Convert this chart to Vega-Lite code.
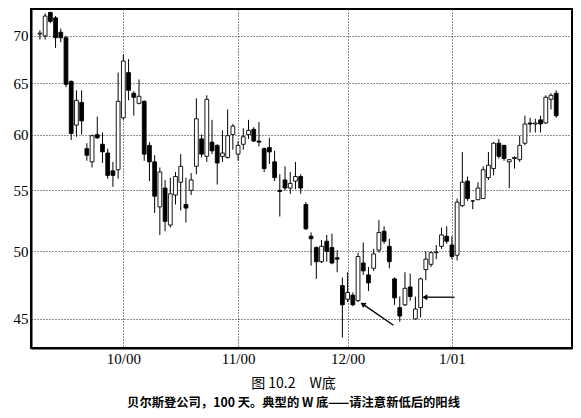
{
  "$schema": "https://vega.github.io/schema/vega-lite/v6.json",
  "width": 541,
  "height": 339,
  "autosize": {"type": "none"},
  "padding": {"left": 31, "top": 9, "right": 9, "bottom": 70},
  "background": "white",
  "title": {
    "text": "图 10.2\u3000W底",
    "subtitle": "贝尔斯登公司，100 天。典型的 W 底——请注意新低后的阳线",
    "orient": "bottom",
    "anchor": "middle",
    "dx": -8,
    "offset": 11,
    "font": "Noto Sans CJK SC",
    "fontSize": 14,
    "fontWeight": "normal",
    "color": "black",
    "subtitleFont": "Noto Sans CJK SC",
    "subtitleFontSize": 12.3,
    "subtitleFontWeight": "bold",
    "subtitleColor": "black",
    "subtitlePadding": 6
  },
  "config": {
    "view": {"stroke": "black", "strokeWidth": 2},
    "axis": {
      "labelFont": "Liberation Serif",
      "labelFontSize": 15,
      "labelColor": "black",
      "gridColor": "#222",
      "gridDash": [1, 2],
      "gridWidth": 1,
      "domainColor": "black",
      "domainWidth": 2,
      "ticks": false,
      "labelPadding": 3,
      "title": null
    }
  },
  "datasets": {
    "candles": [
      {"i": 0, "o": 70.2, "h": 70.6, "l": 69.6, "c": 70.3},
      {"i": 1, "o": 70.0, "h": 72.5, "l": 69.6, "c": 72.2},
      {"i": 2, "o": 72.6, "h": 72.7, "l": 71.4, "c": 71.6},
      {"i": 3, "o": 72.0, "h": 72.2, "l": 68.7, "c": 69.8},
      {"i": 4, "o": 70.4, "h": 70.8, "l": 69.3, "c": 69.8},
      {"i": 5, "o": 69.8, "h": 70.0, "l": 64.6, "c": 64.9},
      {"i": 6, "o": 65.2, "h": 65.3, "l": 59.5, "c": 60.1},
      {"i": 7, "o": 60.9, "h": 64.3, "l": 59.8, "c": 63.3},
      {"i": 8, "o": 63.1, "h": 64.3, "l": 60.0, "c": 61.3},
      {"i": 9, "o": 58.7, "h": 59.2, "l": 57.6, "c": 58.1},
      {"i": 10, "o": 57.5, "h": 60.0, "l": 57.0, "c": 59.9},
      {"i": 11, "o": 60.0, "h": 61.7, "l": 59.6, "c": 59.7},
      {"i": 12, "o": 59.1, "h": 60.2, "l": 57.4, "c": 58.4},
      {"i": 13, "o": 58.3, "h": 58.7, "l": 56.0, "c": 56.3},
      {"i": 14, "o": 56.7, "h": 57.5, "l": 55.3, "c": 56.3},
      {"i": 15, "o": 56.8, "h": 66.1, "l": 56.0, "c": 63.2},
      {"i": 16, "o": 61.6, "h": 68.0, "l": 61.4, "c": 67.3},
      {"i": 17, "o": 66.1, "h": 67.5, "l": 63.3, "c": 64.3},
      {"i": 18, "o": 64.0, "h": 64.2, "l": 61.8, "c": 63.6},
      {"i": 19, "o": 63.0, "h": 65.4, "l": 62.9, "c": 63.7},
      {"i": 20, "o": 63.2, "h": 63.3, "l": 57.6, "c": 58.2},
      {"i": 21, "o": 59.0, "h": 59.3, "l": 55.8, "c": 57.5},
      {"i": 22, "o": 57.5, "h": 58.1, "l": 53.1, "c": 54.5},
      {"i": 23, "o": 53.6, "h": 57.0, "l": 51.3, "c": 56.6},
      {"i": 24, "o": 55.2, "h": 55.9, "l": 51.6, "c": 52.4},
      {"i": 25, "o": 52.1, "h": 56.1, "l": 51.9, "c": 54.7},
      {"i": 26, "o": 54.6, "h": 56.6, "l": 53.8, "c": 56.2},
      {"i": 27, "o": 55.7, "h": 58.2, "l": 53.3, "c": 57.1},
      {"i": 28, "o": 53.8, "h": 56.1, "l": 52.3, "c": 53.5},
      {"i": 29, "o": 55.0, "h": 56.5, "l": 54.6, "c": 55.9},
      {"i": 30, "o": 57.1, "h": 63.5, "l": 56.4, "c": 61.5},
      {"i": 31, "o": 59.6, "h": 60.0, "l": 57.9, "c": 58.2},
      {"i": 32, "o": 58.0, "h": 63.8, "l": 57.5, "c": 63.4},
      {"i": 33, "o": 59.3, "h": 61.4, "l": 58.2, "c": 58.5},
      {"i": 34, "o": 59.0, "h": 59.1, "l": 55.5, "c": 57.4},
      {"i": 35, "o": 58.0, "h": 60.4, "l": 57.5, "c": 58.3},
      {"i": 36, "o": 57.9, "h": 62.4, "l": 57.8, "c": 59.9},
      {"i": 37, "o": 60.0, "h": 61.0, "l": 58.6, "c": 60.8},
      {"i": 38, "o": 58.2, "h": 59.4, "l": 57.6, "c": 59.0},
      {"i": 39, "o": 59.1, "h": 60.6, "l": 58.6, "c": 59.8},
      {"i": 40, "o": 60.0, "h": 61.4, "l": 59.6, "c": 60.4},
      {"i": 41, "o": 60.5, "h": 60.7, "l": 59.3, "c": 59.4},
      {"i": 42, "o": 59.4, "h": 61.2, "l": 58.9, "c": 59.3},
      {"i": 43, "o": 58.7, "h": 58.8, "l": 56.6, "c": 56.9},
      {"i": 44, "o": 58.8, "h": 59.7, "l": 57.3, "c": 58.4},
      {"i": 45, "o": 57.5, "h": 58.5, "l": 55.8, "c": 56.1},
      {"i": 46, "o": 55.0, "h": 56.4, "l": 52.8, "c": 54.9},
      {"i": 47, "o": 55.9, "h": 57.1, "l": 55.0, "c": 55.2},
      {"i": 48, "o": 55.2, "h": 56.6, "l": 54.7, "c": 55.6},
      {"i": 49, "o": 55.8, "h": 57.5, "l": 55.1, "c": 56.2},
      {"i": 50, "o": 56.2, "h": 56.4, "l": 54.7, "c": 55.2},
      {"i": 51, "o": 53.8, "h": 54.0, "l": 51.7, "c": 51.8},
      {"i": 52, "o": 51.2, "h": 51.5, "l": 48.9, "c": 51.0},
      {"i": 53, "o": 50.3, "h": 50.4, "l": 47.9, "c": 49.2},
      {"i": 54, "o": 49.2, "h": 50.9, "l": 49.1, "c": 50.4},
      {"i": 55, "o": 50.8, "h": 51.3, "l": 49.2, "c": 50.0},
      {"i": 56, "o": 50.3, "h": 51.4, "l": 49.0, "c": 49.1},
      {"i": 57, "o": 49.5, "h": 50.1, "l": 48.4, "c": 49.4},
      {"i": 58, "o": 47.4, "h": 48.0, "l": 43.7, "c": 46.0},
      {"i": 59, "o": 46.4, "h": 48.4, "l": 46.2, "c": 46.9},
      {"i": 60, "o": 46.7, "h": 46.9, "l": 45.9, "c": 46.0},
      {"i": 61, "o": 46.3, "h": 49.9, "l": 46.2, "c": 49.6},
      {"i": 62, "o": 49.1, "h": 50.7, "l": 48.2, "c": 48.5},
      {"i": 63, "o": 48.2, "h": 48.8, "l": 47.0, "c": 47.6},
      {"i": 64, "o": 48.7, "h": 50.2, "l": 48.5, "c": 49.8},
      {"i": 65, "o": 50.1, "h": 52.5, "l": 49.9, "c": 51.5},
      {"i": 66, "o": 51.6, "h": 52.0, "l": 50.6, "c": 50.8},
      {"i": 67, "o": 50.4, "h": 51.0, "l": 48.7, "c": 49.2},
      {"i": 68, "o": 47.9, "h": 48.0, "l": 46.0, "c": 46.5},
      {"i": 69, "o": 45.8, "h": 46.6, "l": 44.8, "c": 45.2},
      {"i": 70, "o": 46.0, "h": 48.4, "l": 45.9, "c": 47.2},
      {"i": 71, "o": 47.3, "h": 48.3, "l": 46.3, "c": 46.6},
      {"i": 72, "o": 45.0, "h": 46.6, "l": 44.95, "c": 45.7},
      {"i": 73, "o": 45.8, "h": 48.0, "l": 45.1, "c": 47.9},
      {"i": 74, "o": 48.6, "h": 50.0, "l": 47.8, "c": 49.4},
      {"i": 75, "o": 49.0, "h": 50.0, "l": 48.8, "c": 49.9},
      {"i": 76, "o": 49.9, "h": 50.5, "l": 49.4, "c": 49.95},
      {"i": 77, "o": 50.4, "h": 51.9, "l": 50.2, "c": 51.3},
      {"i": 78, "o": 51.2, "h": 52.0, "l": 50.6, "c": 50.8},
      {"i": 79, "o": 50.5, "h": 51.2, "l": 49.4, "c": 49.6},
      {"i": 80, "o": 49.7, "h": 54.3, "l": 49.3, "c": 54.0},
      {"i": 81, "o": 53.7, "h": 58.4, "l": 53.6, "c": 55.7},
      {"i": 82, "o": 55.8, "h": 56.2, "l": 54.1, "c": 54.3},
      {"i": 83, "o": 54.1, "h": 54.15, "l": 53.4, "c": 54.1},
      {"i": 84, "o": 54.2, "h": 55.7, "l": 54.2, "c": 55.2},
      {"i": 85, "o": 54.3, "h": 57.1, "l": 54.3, "c": 56.8},
      {"i": 86, "o": 56.1, "h": 58.4, "l": 55.9, "c": 57.2},
      {"i": 87, "o": 56.9, "h": 59.3, "l": 56.3, "c": 59.2},
      {"i": 88, "o": 59.2, "h": 59.6, "l": 57.8, "c": 58.0},
      {"i": 89, "o": 59.0, "h": 59.05, "l": 57.6, "c": 57.8},
      {"i": 90, "o": 57.5, "h": 57.7, "l": 55.2, "c": 57.7},
      {"i": 91, "o": 57.8, "h": 58.0, "l": 56.9, "c": 57.9},
      {"i": 92, "o": 57.7, "h": 59.9, "l": 57.5, "c": 59.0},
      {"i": 93, "o": 59.2, "h": 61.8, "l": 59.0, "c": 61.0},
      {"i": 94, "o": 61.1, "h": 61.6, "l": 60.2, "c": 61.0},
      {"i": 95, "o": 61.0, "h": 61.5, "l": 60.2, "c": 61.1},
      {"i": 96, "o": 61.4, "h": 61.8, "l": 60.2, "c": 61.0},
      {"i": 97, "o": 61.1, "h": 63.8, "l": 61.0, "c": 63.6},
      {"i": 98, "o": 63.4, "h": 64.0, "l": 62.4, "c": 63.8},
      {"i": 99, "o": 64.0, "h": 64.3, "l": 61.6, "c": 61.8}
    ],
    "arrows": [
      {"name": "a", "x1": 67.8, "p1": 44.56, "x2": 61.9, "p2": 46.05},
      {"name": "b", "x1": 79.5, "p1": 46.55, "x2": 73.8, "p2": 46.55}
    ]
  },
  "layer": [
    {
      "mark": {"type": "rule", "color": "black", "strokeWidth": 1.2},
      "encoding": {
        "y": {"datum": 71.2, "type": "quantitative"}
      }
    },
    {
      "data": {"name": "candles"},
      "mark": {"type": "rule", "color": "black", "strokeWidth": 1},
      "encoding": {
        "x": {
          "field": "i",
          "type": "quantitative",
          "scale": {"domain": [-0.75, 101.07], "nice": false, "zero": false},
          "axis": {
            "values": [16, 38, 59, 79],
            "labelExpr": "datum.value == 16 ? '10/00' : datum.value == 38 ? '11/00' : datum.value == 59 ? '12/00' : '1/01'",
            "grid": true,
            "domain": true
          }
        },
        "y": {
          "field": "l",
          "type": "quantitative",
          "scale": {"type": "log", "domain": [43, 73], "nice": false, "zero": false},
          "axis": {"values": [45, 50, 55, 60, 65, 70], "grid": true, "domain": true}
        },
        "y2": {"field": "h"}
      }
    },
    {
      "data": {"name": "candles"},
      "mark": {"type": "bar", "width": 3.8, "stroke": "black", "strokeWidth": 0.9},
      "encoding": {
        "x": {"field": "i", "type": "quantitative"},
        "y": {"field": "o", "type": "quantitative"},
        "y2": {"field": "c"},
        "fill": {
          "condition": {"test": "datum.c > datum.o", "value": "white"},
          "value": "black"
        }
      }
    },
    {
      "data": {"name": "arrows"},
      "mark": {"type": "rule", "color": "black", "strokeWidth": 1.3},
      "encoding": {
        "x": {"field": "x1", "type": "quantitative"},
        "y": {"field": "p1", "type": "quantitative"},
        "x2": {"field": "x2"},
        "y2": {"field": "p2"}
      }
    },
    {
      "data": {"name": "arrows"},
      "transform": [{"filter": "datum.name == 'a'"}],
      "mark": {"type": "point", "shape": "triangle-up", "angle": 304, "filled": true, "color": "black", "size": 35, "opacity": 1},
      "encoding": {
        "x": {"field": "x2", "type": "quantitative"},
        "y": {"field": "p2", "type": "quantitative"}
      }
    },
    {
      "data": {"name": "arrows"},
      "transform": [{"filter": "datum.name == 'b'"}],
      "mark": {"type": "point", "shape": "triangle-left", "filled": true, "color": "black", "size": 35, "opacity": 1},
      "encoding": {
        "x": {"field": "x2", "type": "quantitative"},
        "y": {"field": "p2", "type": "quantitative"}
      }
    }
  ]
}
